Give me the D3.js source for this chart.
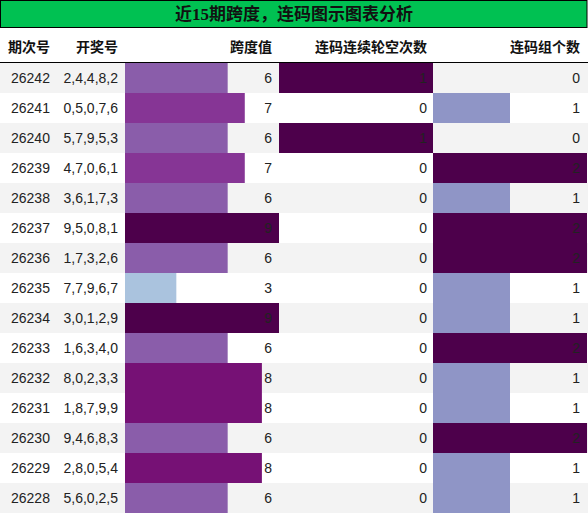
<!DOCTYPE html>
<html><head><meta charset="utf-8">
<script src="https://cdn.jsdelivr.net/npm/d3@7"></script>
<style>
html,body{margin:0;padding:0;background:#fff;}
svg{display:block;}
</style></head>
<body>
<script>
const title = "近15期跨度，连码图示图表分析";
const headers = ["期次号","开奖号","跨度值","连码连续轮空次数","连码组个数"];
const issues = ["26242","26241","26240","26239","26238","26237","26236","26235","26234","26233","26232","26231","26230","26229","26228"];
const draws = ["2,4,4,8,2","0,5,0,7,6","5,7,9,5,3","4,7,0,6,1","3,6,1,7,3","9,5,0,8,1","1,7,3,2,6","7,7,9,6,7","3,0,1,2,9","1,6,3,4,0","8,0,2,3,3","1,8,7,9,9","9,4,6,8,3","2,8,0,5,4","5,6,0,2,5"];
const spans = [6,7,6,7,6,9,6,3,9,6,8,8,6,8,6];
const missRuns = [1,0,1,0,0,0,0,0,0,0,0,0,0,0,0];
const groupCounts = [0,1,0,2,1,2,2,1,1,2,1,1,2,1,1];

const W = 588, H = 514;
const svg = d3.select("body").append("svg").attr("width", W).attr("height", H);

const titleH = 27, headerBottom = 62, rowTop = 63, rowH = 30;
const n = issues.length;
const y = d3.scaleBand().domain(d3.range(n)).range([rowTop, rowTop + rowH * n]).padding(0);

// title
svg.append("rect").attr("x", 0.5).attr("y", 0.5).attr("width", W - 1.5).attr("height", titleH)
  .attr("fill", "#00c152").attr("stroke", "#000").attr("stroke-width", 1);
svg.append("text").attr("x", W / 2).attr("y", 14).attr("text-anchor", "middle")
  .attr("dominant-baseline", "central")
  .style("font-family", "'Liberation Serif','Noto Sans CJK SC',serif").style("font-weight", "bold")
  .style("font-size", "17px").attr("fill", "#111").text(title);

// row stripes
svg.append("g").selectAll("rect").data(d3.range(n)).join("rect")
  .attr("x", 0).attr("y", i => y(i)).attr("width", W).attr("height", y.bandwidth())
  .attr("fill", i => i % 2 === 0 ? "#f3f3f3" : "#ffffff");

// header
const hdrFont = "'Noto Sans CJK SC','Liberation Sans',sans-serif";
const hdrPos = [[8, "start"], [118, "end"], [272, "end"], [427, "end"], [580, "end"]];
svg.append("g").selectAll("text").data(headers).join("text")
  .attr("x", (d, i) => hdrPos[i][0]).attr("y", 46).attr("text-anchor", (d, i) => hdrPos[i][1])
  .attr("dominant-baseline", "central")
  .style("font-family", hdrFont).style("font-weight", "bold").style("font-size", "14px")
  .attr("fill", "#111").text(d => d);
svg.append("line").attr("x1", 0).attr("x2", W).attr("y1", headerBottom + 0.5).attr("y2", headerBottom + 0.5)
  .attr("stroke", "#000").attr("stroke-width", 1);

const txtFont = "'Liberation Sans',Arial,sans-serif";
function textCol(vals, x, anchor) {
  svg.append("g").selectAll("text").data(vals).join("text")
    .attr("x", x).attr("y", (d, i) => y(i) + rowH / 2).attr("text-anchor", anchor)
    .attr("dominant-baseline", "central")
    .style("font-family", txtFont).style("font-size", "14px").attr("fill", "#222").text(d => d);
}
textCol(issues, 11, "start");
textCol(draws, 118, "end");

function barCol(vals, x0, x1, labelX) {
  const max = d3.max(vals);
  const xs = d3.scaleLinear().domain([0, max]).range([x0, x1]);
  const col = d3.scaleSequential(d3.interpolateBuPu).domain([0, max]);
  svg.append("g").selectAll("rect").data(vals).join("rect")
    .attr("x", xs(0)).attr("y", (d, i) => y(i)).attr("width", d => xs(d) - xs(0))
    .attr("height", y.bandwidth()).attr("fill", d => col(d));
  textCol(vals, labelX, "end");
}
barCol(spans, 125, 279, 272);
barCol(missRuns, 279, 433, 427);
barCol(groupCounts, 433, 587, 580);
</script>
</body></html>
